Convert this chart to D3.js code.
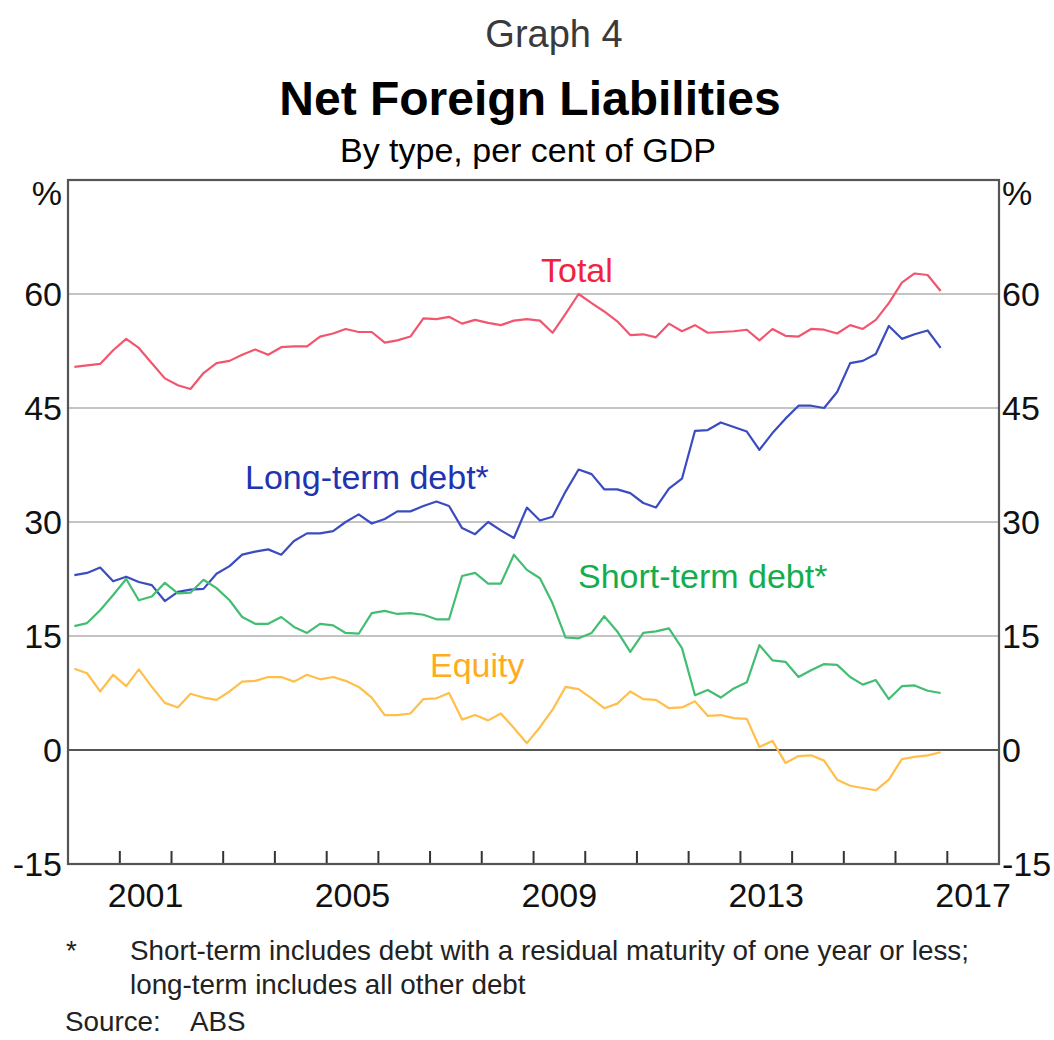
<!DOCTYPE html>
<html>
<head>
<meta charset="utf-8">
<script src="https://cdn.jsdelivr.net/npm/d3@7"></script>
<style>
  body { margin: 0; background: #fff; }
  svg { display: block; font-family: "Liberation Sans", Arial, sans-serif; }
</style>
</head>
<body>
<svg id="chart" width="1054" height="1040"></svg>
<script>
// quarterly, Mar 2000 to Dec 2016, per cent of GDP
var firstYear = 2000, nQuarters = 68;

var total = [50.4,50.6,50.8,52.6,54.1,52.9,50.9,48.9,48.0,47.5,
  49.6,50.9,51.2,52.0,52.7,52.0,53.0,53.1,53.1,54.4,
  54.8,55.4,55.0,55.0,53.6,53.9,54.4,56.8,56.7,57.0,
  56.1,56.6,56.2,55.9,56.5,56.7,56.5,54.9,57.4,60.0,
  58.8,57.7,56.4,54.6,54.7,54.3,56.1,55.1,55.9,54.9,
  55.0,55.1,55.3,53.9,55.4,54.5,54.4,55.4,55.3,54.8,
  55.9,55.4,56.6,58.8,61.5,62.7,62.5,60.4];

var longTerm = [23.0,23.3,24.0,22.2,22.8,22.1,21.7,19.6,20.8,21.1,
  21.2,23.2,24.2,25.7,26.1,26.4,25.7,27.5,28.5,28.5,
  28.8,30.0,31.0,29.8,30.4,31.4,31.4,32.1,32.7,32.1,
  29.2,28.4,30.0,28.9,27.9,31.9,30.2,30.7,34.0,36.9,
  36.3,34.3,34.3,33.8,32.5,31.9,34.4,35.7,42.0,42.1,
  43.1,42.5,41.9,39.5,41.7,43.6,45.3,45.3,45.0,47.1,
  50.9,51.2,52.1,55.8,54.1,54.7,55.2,52.9];

var shortTerm = [16.3,16.7,18.4,20.4,22.5,19.7,20.2,22.0,20.6,20.7,
  22.4,21.3,19.7,17.5,16.6,16.6,17.5,16.2,15.4,16.6,
  16.4,15.4,15.3,18.0,18.3,17.9,18.0,17.8,17.2,17.2,
  22.9,23.3,21.9,21.9,25.7,23.7,22.6,19.3,14.8,14.7,
  15.4,17.6,15.6,12.9,15.4,15.6,16.0,13.4,7.2,7.9,
  6.9,8.1,8.9,13.8,11.8,11.6,9.6,10.5,11.3,11.2,
  9.6,8.6,9.2,6.7,8.4,8.5,7.8,7.5];

var equity = [10.7,10.1,7.7,9.9,8.4,10.6,8.3,6.2,5.6,7.4,
  6.9,6.6,7.7,9.0,9.1,9.6,9.6,9.0,9.9,9.3,
  9.6,9.1,8.3,6.9,4.6,4.6,4.8,6.7,6.8,7.5,
  4.0,4.6,3.9,4.8,2.9,0.9,3.0,5.3,8.3,8.0,
  6.8,5.5,6.1,7.7,6.7,6.6,5.5,5.6,6.4,4.5,
  4.6,4.2,4.1,0.4,1.2,-1.7,-0.8,-0.7,-1.4,-3.9,
  -4.7,-5.0,-5.3,-3.9,-1.2,-0.9,-0.7,-0.3];

var yTicks = [-15, 0, 15, 30, 45, 60];
var yearLabels = [2001, 2005, 2009, 2013, 2017];

var series = [
  {name: "Total", values: total, line: "#f2566f", text: "#f0223f", lx: 541, ly: 282},
  {name: "Long-term debt*", values: longTerm, line: "#3b4cc0", text: "#2233b0", lx: 245, ly: 489},
  {name: "Short-term debt*", values: shortTerm, line: "#43bd72", text: "#13ad4e", lx: 578, ly: 588},
  {name: "Equity", values: equity, line: "#ffbf4a", text: "#ffac1c", lx: 430, ly: 677}
];

// quarter mid-points as dates
var dates = d3.range(nQuarters).map(function(i) {
  return new Date(firstYear, 3 * i + 1, 15);
});

var plotLeft = 68, plotRight = 999, plotTop = 180, plotBottom = 864;

var svg = d3.select("#chart");

var x = d3.scaleTime()
  .domain([new Date(2000, 0, 1), new Date(2018, 0, 1)])
  .range([plotLeft, plotRight]);

var y = d3.scaleLinear()
  .domain([-15, 75])
  .range([plotBottom, plotTop]);

// titles
svg.append("text").attr("x", 554).attr("y", 47).attr("text-anchor", "middle")
  .style("font-size", "38px").style("fill", "#3a3a3a").text("Graph 4");
svg.append("text").attr("x", 530).attr("y", 115).attr("text-anchor", "middle")
  .style("font-size", "48px").style("font-weight", "bold").style("fill", "#000")
  .text("Net Foreign Liabilities");
svg.append("text").attr("x", 528).attr("y", 162).attr("text-anchor", "middle")
  .style("font-size", "34px").style("fill", "#000").text("By type, per cent of GDP");

// gridlines
svg.append("g").selectAll("line")
  .data(yTicks.filter(function(d) { return d > 0; }))
  .enter().append("line")
    .attr("x1", plotLeft).attr("x2", plotRight)
    .attr("y1", function(d) { return y(d); })
    .attr("y2", function(d) { return y(d); })
    .style("stroke", "#c4c4c4").style("stroke-width", 2);

svg.append("line")
  .attr("x1", plotLeft).attr("x2", plotRight)
  .attr("y1", y(0)).attr("y2", y(0))
  .style("stroke", "#555").style("stroke-width", 2.2);

// year ticks along the bottom, pointing up
var yearTicks = d3.timeYear.range(new Date(2001, 0, 1), new Date(2018, 0, 1));
svg.append("g").selectAll("line")
  .data(yearTicks)
  .enter().append("line")
    .attr("x1", function(d) { return x(d); })
    .attr("x2", function(d) { return x(d); })
    .attr("y1", plotBottom).attr("y2", plotBottom - 13)
    .style("stroke", "#333").style("stroke-width", 2);

// frame
svg.append("rect")
  .attr("x", plotLeft).attr("y", plotTop)
  .attr("width", plotRight - plotLeft).attr("height", plotBottom - plotTop)
  .style("fill", "none").style("stroke", "#555").style("stroke-width", 2.2);

// y labels both sides
var yLab = svg.append("g").style("font-size", "34px").style("fill", "#111");
yLab.selectAll(".yl").data(yTicks).enter().append("text")
  .attr("class", "yl")
  .attr("x", plotLeft - 6).attr("y", function(d) { return y(d) + 12; })
  .attr("text-anchor", "end").text(function(d) { return d; });
yLab.selectAll(".yr").data(yTicks).enter().append("text")
  .attr("class", "yr")
  .attr("x", plotRight + 3).attr("y", function(d) { return y(d) + 12; })
  .attr("text-anchor", "start").text(function(d) { return d; });
yLab.append("text").attr("x", plotLeft - 6).attr("y", 205).attr("text-anchor", "end").text("%");
yLab.append("text").attr("x", plotRight + 3).attr("y", 205).text("%");

// x labels centred in each year
svg.append("g").selectAll("text")
  .data(yearLabels)
  .enter().append("text")
    .attr("x", function(d) { return x(new Date(d, 6, 2)); })
    .attr("y", 907)
    .attr("text-anchor", "middle")
    .style("font-size", "34px").style("fill", "#111")
    .text(function(d) { return d; });

// lines
var line = d3.line()
  .x(function(d, i) { return x(dates[i]); })
  .y(function(d) { return y(d); });

svg.append("g").selectAll("path")
  .data(series)
  .enter().append("path")
    .attr("d", function(d) { return line(d.values); })
    .style("fill", "none")
    .style("stroke", function(d) { return d.line; })
    .style("stroke-width", 2.2)
    .style("stroke-linejoin", "round");

svg.append("g").selectAll("text")
  .data(series)
  .enter().append("text")
    .attr("x", function(d) { return d.lx; })
    .attr("y", function(d) { return d.ly; })
    .style("font-size", "34px")
    .style("fill", function(d) { return d.text; })
    .text(function(d) { return d.name; });

// notes
var notes = svg.append("g").style("font-size", "27.8px").style("fill", "#222");
notes.append("text").attr("x", 66).attr("y", 960).text("*");
notes.append("text").attr("x", 130).attr("y", 960)
  .text("Short-term includes debt with a residual maturity of one year or less;");
notes.append("text").attr("x", 130).attr("y", 994).text("long-term includes all other debt");
notes.append("text").attr("x", 65).attr("y", 1031).text("Source:");
notes.append("text").attr("x", 190).attr("y", 1031).text("ABS");
</script>
</body>
</html>
